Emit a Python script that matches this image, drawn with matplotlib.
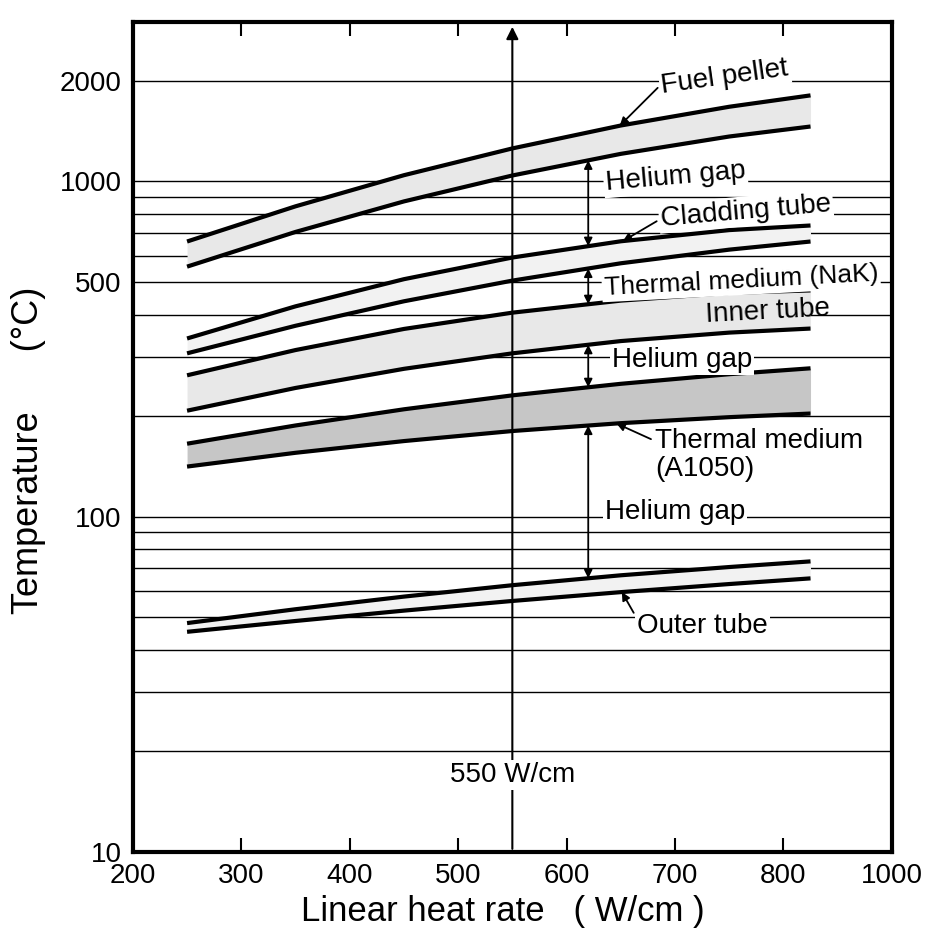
import numpy as np
import matplotlib.pyplot as plt

plt.rcParams['font.family'] = ['Liberation Sans', 'DejaVu Sans']

# linear heat rate (W/cm) where curves were read
heat_rate = [250, 350, 450, 550, 650, 750, 825]

# temperatures (deg C), upper / lower boundary of each layer
fuel_top = [662, 843, 1044, 1255, 1469, 1671, 1807]
fuel_bot = [557, 707, 872, 1042, 1209, 1362, 1459]
clad_top = [340, 424, 511, 593, 663, 716, 739]
clad_bot = [307, 371, 439, 506, 570, 626, 662]
inner_top = [264, 314, 363, 406, 441, 465, 473]
inner_bot = [207, 242, 276, 307, 334, 354, 364]
al_top = [165, 187, 209, 230, 249, 266, 277]
al_bot = [141, 155, 168, 180, 190, 198, 203]
outer_top = [48.1, 52.9, 57.7, 62.4, 66.8, 70.7, 73.5]
outer_bot = [45.3, 48.8, 52.4, 56.0, 59.5, 62.9, 65.4]

grid_temps = [20, 30, 40, 50, 60, 70, 80, 90, 100,
              200, 300, 400, 500, 600, 700, 800, 900, 1000, 2000]
x_ticks = [200, 300, 400, 500, 600, 700, 800, 900]
x_labels = ['200', '300', '400', '500', '600', '700', '800', '1000']
y_ticks = [10, 100, 500, 1000, 2000]
y_labels = ['10', '100', '500', '1000', '2000']

gap_x = 620
ref_x = 550


def at(x, vals):
    return 10 ** np.interp(x, heat_rate, np.log10(vals))


fig = plt.figure(figsize=(9.29, 9.39), dpi=100)
ax = fig.add_axes([0.143, 0.093, 0.817, 0.884])
ax.set_yscale('log')
ax.set_xlim(200, 900)
ax.set_ylim(10, 3000)

for t in grid_temps:
    ax.axhline(t, color='black', lw=1.0, zorder=1)

bands = [(fuel_top, fuel_bot, '#e8e8e8'),
         (clad_top, clad_bot, '#f2f2f2'),
         (inner_top, inner_bot, '#e8e8e8'),
         (al_top, al_bot, '#c6c6c6'),
         (outer_top, outer_bot, '#f2f2f2')]
for top, bot, col in bands:
    ax.fill_between(heat_rate, bot, top, color=col, lw=0, zorder=2)
    ax.plot(heat_rate, top, color='black', lw=3, solid_capstyle='butt',
            solid_joinstyle='round', zorder=3)
    ax.plot(heat_rate, bot, color='black', lw=3, solid_capstyle='butt',
            solid_joinstyle='round', zorder=3)

# 550 W/cm reference line
ax.annotate('', xy=(ref_x, 2950), xytext=(ref_x, 10),
            arrowprops=dict(arrowstyle='-|>', color='black', lw=1.5,
                            mutation_scale=18), zorder=4)
box = dict(facecolor='white', edgecolor='none', pad=1.5)
fs = 20
ax.text(ref_x, 16.9, '550 W/cm', ha='center', va='center', fontsize=fs,
        bbox=box, zorder=5)

# gap arrows
for lo, hi in [(fuel_bot, clad_top), (clad_bot, inner_top),
               (inner_bot, al_top), (al_bot, outer_top)]:
    ax.annotate('', xy=(gap_x, at(gap_x, lo)), xytext=(gap_x, at(gap_x, hi)),
                arrowprops=dict(arrowstyle='<|-|>', color='black', lw=1.3,
                                mutation_scale=12, shrinkA=0, shrinkB=0),
                zorder=4)

ax.annotate('Fuel pellet', xy=(649, at(649, fuel_top)), xytext=(686, 2050),
            fontsize=fs, rotation=8, ha='left', va='center', bbox=box, zorder=5,
            arrowprops=dict(arrowstyle='-|>', color='black', lw=1.3,
                            mutation_scale=12, shrinkA=2, shrinkB=0,
                            relpos=(0, 0.3)))
ax.text(635, 1030, 'Helium gap', fontsize=fs, rotation=5, ha='left',
        va='center', bbox=box, zorder=5)
ax.annotate('Cladding tube', xy=(652, at(652, clad_top)), xytext=(686, 815),
            fontsize=fs, rotation=5, ha='left', va='center', bbox=box, zorder=5,
            arrowprops=dict(arrowstyle='-|>', color='black', lw=1.3,
                            mutation_scale=12, shrinkA=2, shrinkB=0,
                            relpos=(0, 0.3)))
ax.text(634, 505, 'Thermal medium (NaK)', fontsize=19, rotation=3, ha='left',
        va='center', bbox=box, zorder=5)
ax.text(728, 408, 'Inner tube', fontsize=fs, rotation=3, ha='left',
        va='center', zorder=5)
ax.text(642, 293, 'Helium gap', fontsize=fs, ha='left', va='center',
        bbox=box, zorder=5)
ax.annotate('Thermal medium\n(A1050)', xy=(646, at(646, al_bot)),
            xytext=(682, 153), fontsize=fs, ha='left', va='center',
            linespacing=1.1, bbox=box, zorder=5,
            arrowprops=dict(arrowstyle='-|>', color='black', lw=1.3,
                            mutation_scale=12, shrinkA=2, shrinkB=0,
                            relpos=(0, 0.75)))
ax.text(635, 103, 'Helium gap', fontsize=fs, ha='left', va='center',
        bbox=box, zorder=5)
ax.annotate('Outer tube', xy=(651, at(651, outer_bot)), xytext=(665, 47),
            fontsize=fs, ha='left', va='center', bbox=box, zorder=5,
            arrowprops=dict(arrowstyle='-|>', color='black', lw=1.3,
                            mutation_scale=12, shrinkA=2, shrinkB=0,
                            relpos=(0, 0.8)))

ax.set_xticks(x_ticks)
ax.set_xticklabels(x_labels, fontsize=fs)
ax.set_yticks(y_ticks)
ax.set_yticklabels(y_labels, fontsize=fs)
ax.yaxis.set_minor_locator(plt.NullLocator())
ax.tick_params(axis='x', direction='in', top=True, length=10, width=1.5, pad=8)
ax.tick_params(axis='y', length=0, pad=8)
for s in ax.spines.values():
    s.set_linewidth(3)

ax.set_xlabel('Linear heat rate   ( W/cm )', fontsize=25)
ax.set_ylabel('Temperature      (°C)', fontsize=26)
ax.xaxis.set_label_coords(0.487, -0.052)
ax.yaxis.set_label_coords(-0.115, 0.484)

fig.savefig('out.png', dpi=100)
